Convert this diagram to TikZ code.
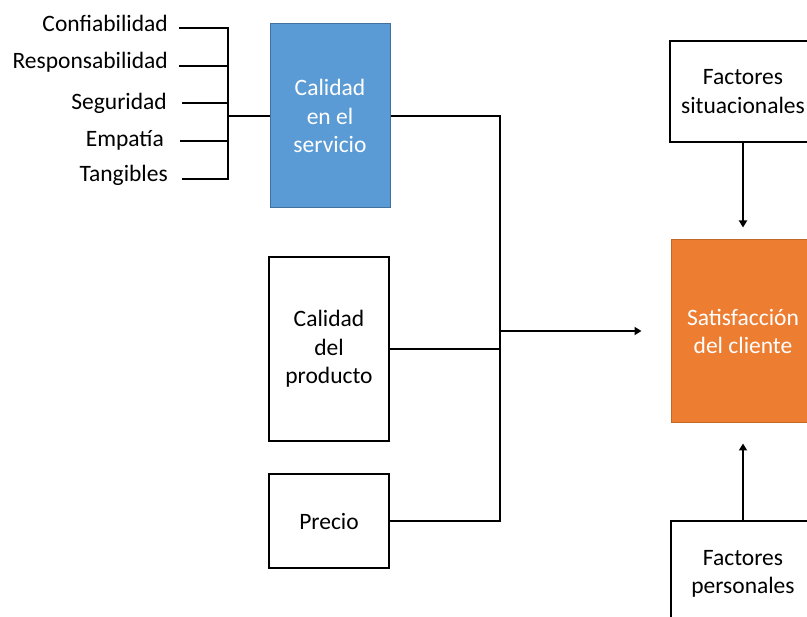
\documentclass[tikz,border=0pt]{standalone}
\usepackage{fontspec}
\setmainfont{Carlito}
\usetikzlibrary{arrows.meta}
\definecolor{svcblue}{HTML}{5B9BD5}
\definecolor{svcedge}{HTML}{41719C}
\definecolor{satorange}{HTML}{ED7D31}
\definecolor{satedge}{HTML}{C0692A}
\tikzset{
  txt/.style={font=\fontsize{23.5}{28.7}\selectfont},
  box/.style={txt, draw=black, line width=2.4pt, align=center, inner sep=0pt},
  lbl/.style={txt, inner sep=0pt, anchor=base east},
  con/.style={line width=2.3pt},
  arr/.style={con, -{Triangle[length=7pt,width=8pt]}}
}
\begin{document}
\begin{tikzpicture}[x=1pt,y=-1pt]
\useasboundingbox (0,0) rectangle (807,617);
\clip (0,0) rectangle (807,617);

% left labels
\node[lbl] (c1) at (168,32) {Confiabilidad};
\node[lbl] (c2) at (168,69) {Responsabilidad};
\node[lbl] (c3) at (167,110) {Seguridad};
\node[lbl] (c4) at (164,147) {Empatía};
\node[lbl] (c5) at (168,182) {Tangibles};

% boxes
\node[box, fill=svcblue, draw=svcedge, line width=1pt, text=white,
      minimum width=120, minimum height=184] (serv) at (330,116) {Calidad\\en el\\servicio};
\node[box, minimum width=120, minimum height=184] (prod) at (329,349) {Calidad\\del\\producto};
\node[box, minimum width=120, minimum height=94] (prec) at (329,521) {Precio};
\node[box, minimum width=146, minimum height=101] (fs) at (743,91.5) {Factores\\situacionales};
\node[box, fill=satorange, draw=satedge, line width=1pt, text=white,
      minimum width=144, minimum height=183] (sat) at (743,331.5) {Satisfacción\\del cliente};
\node[box, minimum width=144, minimum height=106] (fp) at (743,574) {Factores\\personales};

% bracket
\coordinate (b1) at (228,28);
\coordinate (b2) at (228,66);
\coordinate (b3) at (228,103);
\coordinate (b4) at (228,141);
\coordinate (b5) at (228,179);
\coordinate (bm) at (228,116);
\draw[con] ([shift={(11,-4)}]c1.base east) -- (b1) -- (b5) -- ([shift={(14,-3)}]c5.base east);
\draw[con] ([shift={(11,-3)}]c2.base east) -- (b2);
\draw[con] ([shift={(15,-7)}]c3.base east) -- (b3);
\draw[con] ([shift={(16,-6)}]c4.base east) -- (b4);
\draw[con] (bm) -- (serv.west);

% collector
\coordinate (jt) at (500,116);
\coordinate (jb) at (500,521);
\coordinate (ja) at (500,331);
\draw[con] (serv.east) -- (jt) -- (jb) -- (prec.east);
\draw[con] (prod.east) -- (prod.east -| jt);
\draw[arr] (ja) -- ([xshift=-29pt]sat.west |- ja);

% vertical arrows
\draw[arr] (fs.south) -- ([yshift=12pt]sat.north);
\draw[arr] (fp.north) -- ([yshift=-20pt]sat.south);
\end{tikzpicture}
\end{document}
